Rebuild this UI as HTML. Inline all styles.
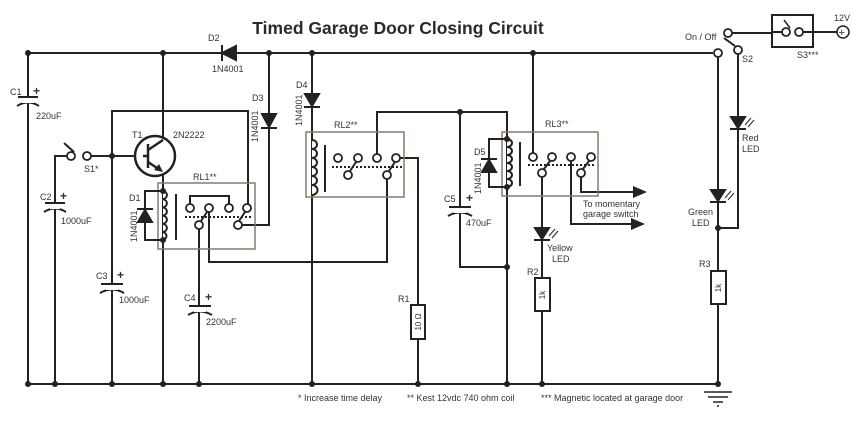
<!DOCTYPE html>
<html><head><meta charset="utf-8"><style>
html,body{margin:0;padding:0;background:#fff;}
svg{display:block;font-family:"Liberation Sans",sans-serif;}
text{fill:#333;font-size:9px;}
</style></head><body>
<svg width="865" height="426" viewBox="0 0 865 426" xmlns="http://www.w3.org/2000/svg">
<g stroke="#222" stroke-width="2" fill="none">
<!-- top rail -->
<polyline points="28,53 713,53"/>
<!-- bottom rail -->
<polyline points="28,384 718,384"/>
<!-- C1 -->
<line x1="28" y1="53" x2="28" y2="384"/>
<!-- C2 / S1 -->
<polyline points="55,384 55,156 67,156"/>
<line x1="91" y1="156" x2="143" y2="156"/>
<line x1="74" y1="152" x2="64" y2="143"/>
<!-- C3 line -->
<polyline points="112,384 112,111 248,111 248,204"/>
<!-- T1 -->
<line x1="163" y1="53" x2="163" y2="140"/>
<line x1="163" y1="172" x2="163" y2="384"/>
<!-- D3 -->
<polyline points="269,53 269,225 242,225"/>
<!-- RL1 lower left contact wire -->
<line x1="199" y1="229" x2="199" y2="384"/>
<polyline points="209,212 209,262 387,262 387,179"/>
<polyline points="190,204 190,196 229,196 229,204"/>
<!-- D4 / RL2 coil -->
<line x1="312" y1="53" x2="312" y2="384"/>
<polyline points="377,154 377,112 507,112 507,384"/>
<polyline points="400,158 418,158 418,384"/>
<!-- C5 -->
<polyline points="460,112 460,267 507,267"/>
<!-- RL3 -->
<line x1="533" y1="53" x2="533" y2="153"/>
<line x1="542" y1="177" x2="542" y2="384"/>
<polyline points="571,161 571,224 632,224"/>
<polyline points="581,177 581,192 634,192"/>
<!-- right side -->
<line x1="718" y1="57" x2="718" y2="384"/>
<polyline points="738,54 738,228 718,228"/>
<line x1="732" y1="33" x2="772" y2="33"/>
<line x1="724" y1="38" x2="735" y2="46"/>
<line x1="813" y1="32" x2="837" y2="32"/>
</g>
<!-- relay boxes -->
<g stroke="#8a7a6c" stroke-width="1.5" fill="none">
<rect x="158" y="183" width="97" height="66"/>
<rect x="306" y="132" width="98" height="65"/>
<rect x="502" y="132" width="96" height="64"/>
</g>
<!-- coils -->
<g stroke="#222" stroke-width="2" fill="#fff">
<path d="M163 191 a5 4.2 0 0 1 0 8.2 a5 4.2 0 0 1 0 8.2 a5 4.2 0 0 1 0 8.2 a5 4.2 0 0 1 0 8.2 a5 4.2 0 0 1 0 8.2 a5 4.2 0 0 1 0 8" />
<path d="M312 140 a5 4.5 0 0 1 0 9 a5 4.5 0 0 1 0 9 a5 4.5 0 0 1 0 9 a5 4.5 0 0 1 0 9 a5 4.5 0 0 1 0 9 a5 4.5 0 0 1 0 10" />
<path d="M507 139 a5 4 0 0 1 0 8 a5 4 0 0 1 0 8 a5 4 0 0 1 0 8 a5 4 0 0 1 0 8 a5 4 0 0 1 0 8 a5 4 0 0 1 0 8" />
</g>
<g stroke="#222" stroke-width="2">
<line x1="176" y1="194" x2="176" y2="240"/>
<line x1="325" y1="145" x2="325" y2="192"/>
<line x1="520" y1="142" x2="520" y2="186"/>
</g>
<!-- dotted mechanical links -->
<g stroke="#222" stroke-width="2" stroke-dasharray="2,2">
<line x1="185" y1="217" x2="252" y2="217"/>
<line x1="332" y1="167" x2="402" y2="167"/>
<line x1="528" y1="165" x2="596" y2="165"/>
</g>
<!-- switch blades -->
<g stroke="#222" stroke-width="2">
<line x1="201" y1="221" x2="207" y2="212"/>
<line x1="239" y1="221" x2="245" y2="212"/>
<line x1="350" y1="171" x2="356" y2="162"/>
<line x1="389" y1="171" x2="395" y2="162"/>
<line x1="544" y1="169" x2="550" y2="161"/>
<line x1="583" y1="169" x2="589" y2="161"/>
</g>
<!-- contacts -->
<g stroke="#222" stroke-width="1.8" fill="#fff">
<circle cx="71" cy="156" r="4"/><circle cx="87" cy="156" r="4"/>
<circle cx="190" cy="208" r="4"/><circle cx="209" cy="208" r="4"/><circle cx="229" cy="208" r="4"/><circle cx="247" cy="208" r="4"/>
<circle cx="199" cy="225" r="4"/><circle cx="238" cy="225" r="4"/>
<circle cx="338" cy="158" r="4"/><circle cx="358" cy="158" r="4"/><circle cx="377" cy="158" r="4"/><circle cx="396" cy="158" r="4"/>
<circle cx="348" cy="175" r="4"/><circle cx="387" cy="175" r="4"/>
<circle cx="533" cy="157" r="4"/><circle cx="552" cy="157" r="4"/><circle cx="571" cy="157" r="4"/><circle cx="591" cy="157" r="4"/>
<circle cx="542" cy="173" r="4"/><circle cx="581" cy="173" r="4"/>
<circle cx="718" cy="53" r="4"/><circle cx="728" cy="33" r="4"/><circle cx="738" cy="50" r="4"/>
</g>
<!-- S3 -->
<rect x="772" y="15" width="41" height="32" stroke="#222" stroke-width="2" fill="#fff"/>
<line x1="772" y1="32" x2="782" y2="32" stroke="#222" stroke-width="2"/>
<line x1="802" y1="32" x2="813" y2="32" stroke="#222" stroke-width="2"/>
<line x1="790" y1="28" x2="784" y2="20" stroke="#222" stroke-width="1.5"/>
<circle cx="786" cy="32" r="4" stroke="#222" stroke-width="1.8" fill="#fff"/>
<circle cx="799" cy="32" r="4" stroke="#222" stroke-width="1.8" fill="#fff"/>
<circle cx="843" cy="32" r="6" stroke="#222" stroke-width="1.5" fill="#fff"/>
<text x="838.5" y="36" style="font-size:11px">+</text>
<!-- T1 circle -->
<circle cx="155" cy="156" r="20" stroke="#222" stroke-width="2.5" fill="#fff"/>
<g stroke="#222" stroke-width="2.5">
<line x1="148" y1="144" x2="148" y2="168"/>
<line x1="143" y1="156" x2="148" y2="156"/>
<line x1="148" y1="150" x2="163" y2="140"/>
<line x1="148" y1="162" x2="160" y2="170"/>
</g>
<polygon points="163,172 154,170 159,164" fill="#222"/>
<!-- capacitors -->
<g stroke="#222" stroke-width="2" fill="none">
<line x1="18" y1="97" x2="38" y2="97"/><path d="M17 106 Q28 99 39 106"/>
<line x1="45" y1="203" x2="65" y2="203"/><path d="M44 212 Q55 205 66 212"/>
<line x1="101" y1="284" x2="123" y2="284"/><path d="M100 293 Q112 286 124 293"/>
<line x1="189" y1="306" x2="211" y2="306"/><path d="M188 315 Q200 308 212 315"/>
<line x1="449" y1="207" x2="471" y2="207"/><path d="M448 216 Q460 209 472 216"/>
</g>
<g fill="#fff"><rect x="22" y="98" width="12" height="5"/><rect x="50" y="204" width="10" height="5"/><rect x="106" y="285" width="12" height="5"/><rect x="194" y="307" width="12" height="5"/><rect x="454" y="208" width="12" height="5"/></g>
<!-- diodes -->
<g fill="#222" stroke="#222" stroke-width="2">
<polygon points="222,53 236,46 236,60" /><line x1="222" y1="45" x2="222" y2="61"/>
<polygon points="262,114 276,114 269,127"/><line x1="261" y1="128" x2="277" y2="128"/>
<polygon points="305,94 319,94 312,106"/><line x1="304" y1="107" x2="320" y2="107"/>
<polygon points="138,222 152,222 145,210"/><line x1="137" y1="209" x2="153" y2="209"/>
<polygon points="482,172 496,172 489,160"/><line x1="481" y1="159" x2="497" y2="159"/>
<polygon points="535,228 549,228 542,239"/><line x1="534" y1="240" x2="550" y2="240"/>
<polygon points="731,117 745,117 738,128"/><line x1="730" y1="129" x2="746" y2="129"/>
<polygon points="711,190 725,190 718,201"/><line x1="710" y1="202" x2="726" y2="202"/>
</g>
<g stroke="#222" stroke-width="2" fill="none">
<polyline points="163,191 145,191 145,240 163,240"/>
<polyline points="507,139 489,139 489,187 507,187"/>
</g>
<!-- LED rays -->
<g stroke="#222" stroke-width="1">
<line x1="549" y1="236" x2="555" y2="229"/><line x1="552" y1="238" x2="558" y2="231"/>
<line x1="745" y1="125" x2="751" y2="118"/><line x1="748" y1="127" x2="754" y2="120"/>
<line x1="725" y1="198" x2="731" y2="191"/><line x1="728" y1="200" x2="734" y2="193"/>
</g>
<!-- resistors -->
<g stroke="#222" stroke-width="2" fill="#fff">
<rect x="411" y="305" width="14" height="34"/>
<rect x="535" y="278" width="15" height="33"/>
<rect x="711" y="271" width="15" height="33"/>
</g>
<text transform="translate(421,322) rotate(-90)" text-anchor="middle" style="font-size:8px">10 Ω</text>
<text transform="translate(545,295) rotate(-90)" text-anchor="middle" style="font-size:8px">1k</text>
<text transform="translate(721,288) rotate(-90)" text-anchor="middle" style="font-size:8px">1k</text>
<!-- arrows -->
<polygon points="647,192 633,186 633,198" fill="#222"/>
<polygon points="645,224 631,218 631,230" fill="#222"/>
<!-- ground -->
<g stroke="#222" stroke-width="1.5"><line x1="704" y1="392" x2="732" y2="392"/><line x1="708" y1="397" x2="728" y2="397"/><line x1="713" y1="402" x2="723" y2="402"/><line x1="717" y1="406" x2="719" y2="406"/></g>
<!-- junction dots -->
<g fill="#222">
<circle cx="28" cy="53" r="3"/><circle cx="163" cy="53" r="3"/><circle cx="269" cy="53" r="3"/><circle cx="312" cy="53" r="3"/><circle cx="533" cy="53" r="3"/>
<circle cx="112" cy="156" r="3"/><circle cx="460" cy="112" r="3"/><circle cx="507" cy="267" r="3"/><circle cx="718" cy="228" r="3"/>
<circle cx="163" cy="191" r="3"/><circle cx="163" cy="240" r="3"/><circle cx="507" cy="139" r="3"/><circle cx="507" cy="187" r="3"/>
<circle cx="28" cy="384" r="3"/><circle cx="55" cy="384" r="3"/><circle cx="112" cy="384" r="3"/><circle cx="163" cy="384" r="3"/><circle cx="199" cy="384" r="3"/><circle cx="312" cy="384" r="3"/><circle cx="418" cy="384" r="3"/><circle cx="507" cy="384" r="3"/><circle cx="542" cy="384" r="3"/><circle cx="718" cy="384" r="3"/>
</g>
<!-- text -->
<text x="398" y="34" text-anchor="middle" style="font-size:17.5px;font-weight:bold;fill:#2a2a2a">Timed Garage Door Closing Circuit</text>
<text x="10" y="95">C1</text><text x="33" y="95" style="font-size:12px;font-weight:bold">+</text><text x="36" y="119">220uF</text>
<text x="40" y="200">C2</text><text x="60" y="200" style="font-size:12px;font-weight:bold">+</text><text x="61" y="224">1000uF</text>
<text x="96" y="279">C3</text><text x="117" y="279" style="font-size:12px;font-weight:bold">+</text><text x="119" y="303">1000uF</text>
<text x="184" y="301">C4</text><text x="205" y="301" style="font-size:12px;font-weight:bold">+</text><text x="206" y="325">2200uF</text>
<text x="444" y="202">C5</text><text x="466" y="202" style="font-size:12px;font-weight:bold">+</text><text x="466" y="226">470uF</text>
<text x="132" y="138">T1</text><text x="173" y="138">2N2222</text>
<text x="84" y="172">S1*</text>
<text x="193" y="180">RL1**</text><text x="334" y="128">RL2**</text><text x="545" y="127">RL3**</text>
<text x="208" y="41">D2</text><text x="212" y="72">1N4001</text>
<text x="252" y="101">D3</text><text transform="translate(258,142) rotate(-90)">1N4001</text>
<text x="296" y="88">D4</text><text transform="translate(302,126) rotate(-90)">1N4001</text>
<text x="129" y="201">D1</text><text transform="translate(137,242) rotate(-90)">1N4001</text>
<text x="474" y="155">D5</text><text transform="translate(481,194) rotate(-90)">1N4001</text>
<text x="398" y="302">R1</text><text x="527" y="275">R2</text><text x="699" y="267">R3</text>
<text x="547" y="251">Yellow</text><text x="552" y="262">LED</text>
<text x="742" y="141">Red</text><text x="742" y="152">LED</text>
<text x="688" y="215">Green</text><text x="692" y="226">LED</text>
<text x="583" y="207">To momentary</text><text x="583" y="217">garage switch</text>
<text x="685" y="40">On / Off</text><text x="742" y="62">S2</text>
<text x="797" y="58">S3***</text><text x="834" y="21">12V</text>
<text x="298" y="401">* Increase time delay</text>
<text x="407" y="401">** Kest 12vdc 740 ohm coil</text>
<text x="541" y="401">*** Magnetic located at garage door</text>
</svg>
</body></html>
